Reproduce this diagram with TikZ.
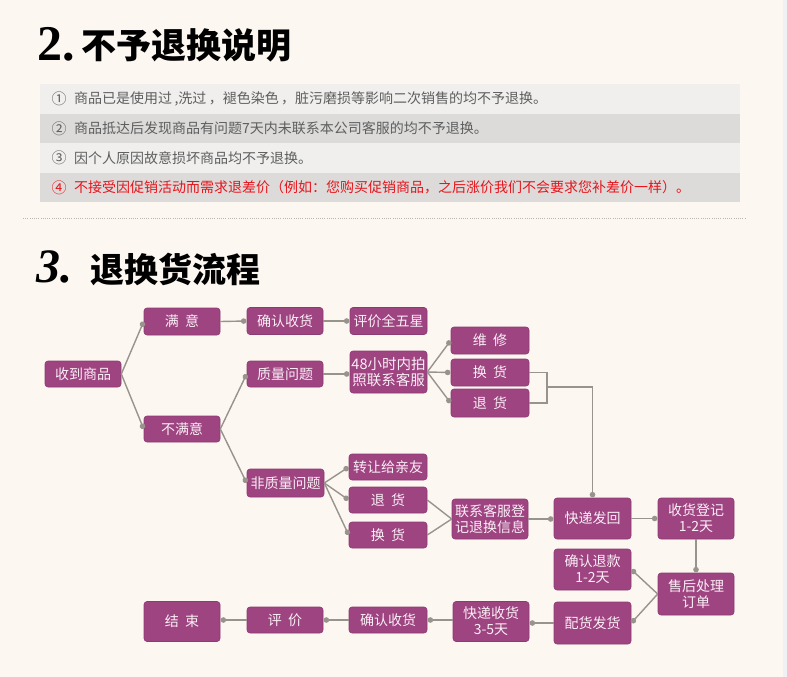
\documentclass[tikz,border=0pt]{standalone}
\usepackage{fontspec}
\newfontfamily\cjk{Noto Sans CJK SC}
\newfontfamily\tserif{Liberation Serif}
\usetikzlibrary{arrows.meta}
\definecolor{bgc}{HTML}{FDF7F1}
\definecolor{rowlight}{HTML}{F0EFEE}
\definecolor{rowdark}{HTML}{DCDBDA}
\definecolor{rowtext}{HTML}{5E5E5E}
\definecolor{rowred}{HTML}{E8141C}
\definecolor{boxfill}{HTML}{9D4481}
\definecolor{boxedge}{HTML}{8C3A72}
\definecolor{boxtext}{HTML}{FBEFF6}
\definecolor{linegray}{HTML}{99938E}
\definecolor{dotgray}{HTML}{BDB5AE}
\definecolor{stripc}{HTML}{EFF1F4}
\newcommand\gp{\hspace{0.45em}}
\begin{document}
\begin{tikzpicture}[x=1pt,y=-1pt,
  flowbox/.style={rectangle, rounded corners=3pt, fill=boxfill, draw=boxedge, line width=0.6pt,
    text=boxtext, font=\cjk\fontsize{14}{16}\selectfont, inner sep=0pt, align=center},
  conn/.style={draw=linegray, line width=1.4pt, -{Circle[length=5.5pt,width=5.5pt]}, shorten >=0.3pt},
  plainconn/.style={draw=linegray, line width=1.4pt},
  rowtxt/.style={anchor=west, inner sep=0pt, font=\cjk\fontsize{14}{16}\selectfont, text=rowtext},
  rownum/.style={inner sep=0pt, font=\cjk\fontsize{15}{16}\selectfont, text=rowtext}
]
\useasboundingbox (0,0) rectangle (787,677);
\fill[bgc] (0,0) rectangle (787,677);
\fill[stripc] (783,0) rectangle (787,677);

% ---- Title 2
\node[anchor=base west, inner sep=0pt] (t2num) at (37,60) {\tserif\bfseries\fontsize{50}{50}\selectfont 2.};
\node[anchor=base west, inner sep=0pt] (t2txt) at (81,59) {\cjk\bfseries\fontsize{35}{35}\selectfont 不予退换说明};

% ---- rows
\fill[rowlight] (40,84) rectangle (740,114);
\fill[rowdark]  (40,114) rectangle (740,143);
\fill[rowlight] (40,143) rectangle (740,173);
\fill[rowdark]  (40,173) rectangle (740,202);
\node[rownum] (n1) at (59,99) {①};
\node[rowtxt] (r1) at (74,99) {商品已是使用过\,,洗过\,，褪色染色\,，脏污磨损等影响二次销售的均不予退换。};
\node[rownum] (n2) at (59,128.5) {②};
\node[rowtxt] (r2) at (74,128.5) {商品抵达后发现商品有问题7天内未联系本公司客服的均不予退换。};
\node[rownum] (n3) at (59,158) {③};
\node[rowtxt] (r3) at (74,158) {因个人原因故意损坏商品均不予退换。};
\node[rownum, text=rowred] (n4) at (59,187.5) {④};
\node[rowtxt, text=rowred] (r4) at (74,187.5) {不接受因促销活动而需求退差价（例如：您购买促销商品，之后涨价我们不会要求您补差价一样）。};

% ---- dotted separator
\draw[dotgray, line width=0.8pt, dash pattern=on 0.8pt off 1.4pt] (23,218) -- (745,218);

% ---- Title 3
\node[anchor=base west, inner sep=0pt] (t3num) at (36,282) {\tserif\bfseries\itshape\fontsize{48}{48}\selectfont 3.};
\node[anchor=base west, inner sep=0pt] (t3txt) at (90,282) {\cjk\bfseries\fontsize{34}{34}\selectfont 退换货流程};

% ---- flow nodes
\node[flowbox, minimum width=76pt, minimum height=26pt] (recv) at (83,374) {收到商品};
\node[flowbox, minimum width=76pt, minimum height=27pt] (sat) at (182,321.5) {满\gp 意};
\node[flowbox, minimum width=76pt, minimum height=27pt] (conf1) at (285,321) {确认收货};
\node[flowbox, minimum width=77pt, minimum height=27pt] (five) at (388.5,321) {评价全五星};
\node[flowbox, minimum width=76pt, minimum height=26pt] (unsat) at (182,429) {不满意};
\node[flowbox, minimum width=76pt, minimum height=26pt] (qual) at (285,374) {质量问题};
\node[flowbox, minimum width=77pt, minimum height=42pt, font=\cjk\fontsize{14.5}{16}\selectfont] (h48) at (388.5,372) {48小时内拍\\照联系客服};
\node[flowbox, minimum width=78pt, minimum height=27pt] (fix) at (490,340.5) {维\gp 修};
\node[flowbox, minimum width=78pt, minimum height=27pt] (exch1) at (490,372.5) {换\gp 货};
\node[flowbox, minimum width=78pt, minimum height=28pt] (ret1) at (490,403) {退\gp 货};
\node[flowbox, minimum width=77pt, minimum height=28pt] (nonq) at (285.5,483) {非质量问题};
\node[flowbox, minimum width=78pt, minimum height=26pt] (give) at (388,467) {转让给亲友};
\node[flowbox, minimum width=78pt, minimum height=26pt] (ret2) at (388,500) {退\gp 货};
\node[flowbox, minimum width=78pt, minimum height=26pt] (exch2) at (388,535) {换\gp 货};
\node[flowbox, minimum width=76pt, minimum height=40pt] (contact) at (490,519) {联系客服登\\记退换信息};
\node[flowbox, minimum width=77pt, minimum height=41pt] (back) at (592.5,518.5) {快递发回};
\node[flowbox, minimum width=76pt, minimum height=41pt] (reg) at (696,518.5) {收货登记\\1-2天};
\node[flowbox, minimum width=77pt, minimum height=41pt] (refund) at (592.5,569.5) {确认退款\\1-2天};
\node[flowbox, minimum width=76pt, minimum height=42pt] (after) at (696,594) {售后处理\\订单};
\node[flowbox, minimum width=77pt, minimum height=42pt] (ship) at (592.5,623) {配货发货};
\node[flowbox, minimum width=76pt, minimum height=40pt] (deliv) at (491,621.5) {快递收货\\3-5天};
\node[flowbox, minimum width=78pt, minimum height=26pt] (conf2) at (388,620) {确认收货};
\node[flowbox, minimum width=76pt, minimum height=26pt] (eval) at (285,620) {评\gp 价};
\node[flowbox, minimum width=76pt, minimum height=40pt] (endn) at (182,621.5) {结\gp 束};

% ---- connectors
\draw[conn] (recv.east) -- (sat.west);
\draw[conn] (recv.east) -- (unsat.west);
\draw[conn] (sat.east) -- (conf1.west);
\draw[conn] (conf1.east) -- (five.west);
\draw[conn] (unsat.east) -- (qual.west);
\draw[conn] (unsat.east) -- (nonq.west);
\draw[conn] (qual.east) -- (qual.east -| h48.west);
\draw[conn] (h48.east) -- (fix.west);
\draw[conn] (h48.east) -- (exch1.west);
\draw[conn] (h48.east) -- (ret1.west);
\draw[conn] (nonq.east) -- (give.west);
\draw[conn] (nonq.east) -- (ret2.west);
\draw[conn] (nonq.east) -- (exch2.west);
\draw[plainconn] (ret2.east) -- (contact.west);
\draw[plainconn] (exch2.east) -- (contact.west);
\coordinate (brk) at (547,387);
\draw[plainconn] (exch1.east) -- (exch1.east -| brk) -- (ret1.east -| brk) -- (ret1.east);
\draw[conn] (brk) -- (brk -| back.north) -- (back.north);
\draw[conn] (contact.east) -- (contact.east -| back.west);
\draw[conn] (back.east) -- (back.east -| reg.west);
\draw[conn] (reg.south) -- (after.north);
\draw[conn] (after.west) -- (refund.east);
\draw[conn] (after.west) -- (ship.east);
\draw[conn] (ship.west) -- (ship.west -| deliv.east);
\draw[conn] (deliv.west |- conf2.east) -- (conf2.east);
\draw[conn] (conf2.west) -- (eval.east);
\draw[conn] (eval.west) -- (eval.west -| endn.east);
\end{tikzpicture}
\end{document}
